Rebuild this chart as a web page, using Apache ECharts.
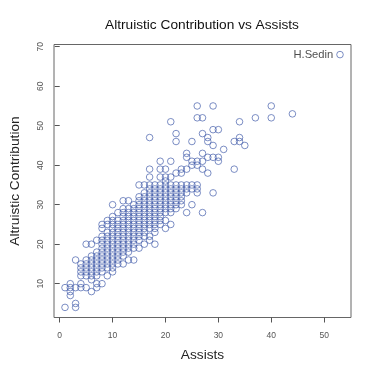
<!DOCTYPE html>
<html>
<head>
<meta charset="utf-8">
<script src="https://cdn.jsdelivr.net/npm/echarts@6/dist/echarts.min.js"></script>
<style>
  html, body { margin: 0; padding: 0; background: #fff; }
  #main { width: 374px; height: 374px; }
</style>
</head>
<body>
<div id="main"></div>
<script>
// assists value -> altruistic contribution values
const columns = [
  [1, [4, 9]],
  [2, [7, 8, 9, 10]],
  [3, [4, 5, 9, 16]],
  [4, [9, 10, 12, 13, 14, 15]],
  [5, [9, 12, 13, 14, 15, 16, 20]],
  [6, [8, 11, 12, 13, 14, 15, 16, 17, 20]],
  [7, [9, 10, 12, 13, 14, 15, 16, 17, 18, 21]],
  [8, [10, 13, 14, 15, 16, 17, 18, 19, 20, 21, 22, 24, 25]],
  [9, [12, 14, 15, 16, 17, 18, 19, 20, 21, 22, 23, 25, 26]],
  [10, [13, 14, 15, 16, 17, 18, 19, 20, 21, 22, 23, 24, 25, 26, 27, 30]],
  [11, [15, 16, 17, 18, 19, 20, 21, 22, 23, 24, 25, 26, 28]],
  [12, [15, 17, 18, 19, 20, 21, 22, 23, 24, 25, 26, 27, 28, 29, 31]],
  [13, [16, 18, 19, 20, 21, 22, 23, 24, 25, 26, 27, 28, 29, 31]],
  [14, [16, 19, 20, 21, 22, 23, 24, 25, 26, 27, 28, 29, 30]],
  [15, [19, 21, 22, 23, 24, 25, 26, 27, 28, 29, 30, 31, 32, 35]],
  [16, [20, 22, 23, 24, 25, 26, 27, 28, 29, 30, 31, 32, 33, 35]],
  [17, [21, 22, 24, 25, 26, 27, 28, 29, 30, 31, 32, 33, 34, 35, 37, 39, 47]],
  [18, [20, 23, 24, 25, 26, 27, 28, 29, 30, 31, 32, 33, 34, 35]],
  [19, [25, 26, 27, 28, 29, 30, 31, 32, 33, 34, 35, 37, 39, 41]],
  [20, [24, 26, 28, 29, 30, 31, 32, 33, 34, 35, 36, 37, 39]],
  [21, [25, 28, 29, 30, 31, 32, 33, 34, 35, 37, 41, 51]],
  [22, [29, 30, 31, 32, 33, 34, 35, 38, 46, 48]],
  [23, [30, 31, 32, 33, 34, 35, 38, 39]],
  [24, [28, 33, 34, 35, 39, 42, 43]],
  [25, [30, 34, 35, 40, 41, 46]],
  [26, [33, 34, 35, 40, 41, 52, 55]],
  [27, [28, 39, 41, 43, 48, 52]],
  [28, [38, 42, 46, 47]],
  [29, [33, 42, 45, 49, 55]],
  [30, [41, 42, 49]],
  [31, [44]],
  [33, [39, 46]],
  [34, [46, 47, 51]],
  [35, [45]],
  [37, [52]],
  [40, [52, 55]],
  [44, [53]],
  [53, [68]]
]
const labelled = { x: 53, y: 68, name: 'H.Sedin' }
const xTicks = [0, 10, 20, 30, 40, 50]
const yTicks = [10, 20, 30, 40, 50, 60, 70]

const font = "'Liberation Sans', Arial, Helvetica, sans-serif"

let points = []
columns.forEach(function (col) {
  col[1].forEach(function (y) {
    if (col[0] === labelled.x && y === labelled.y) {
      points.push({
        value: [col[0], y],
        label: {
          show: true,
          formatter: labelled.name,
          position: 'left',
          distance: 3,
          fontSize: 11.2,
          fontFamily: font,
          color: '#222'
        }
      })
    } else {
      points.push([col[0], y])
    }
  })
})

var myChart = echarts.init(document.getElementById('main'), null, { renderer: 'canvas' })
var option = {
  backgroundColor: '#fff',
  animation: false,
  title: {
    text: 'Altruistic Contribution vs Assists',
    left: 100,
    top: 13,
    textStyle: { fontSize: 13.7, fontWeight: 'normal', color: '#111', fontFamily: font }
  },
  grid: {
    left: 45,
    right: 23,
    top: 44.5,
    bottom: 56.5,
    show: true,
    borderColor: '#666',
    borderWidth: 1
  },
  xAxis: {
    type: 'value',
    min: -1.08,
    max: 55.08,
    name: 'Assists',
    nameLocation: 'middle',
    nameGap: 31,
    nameTextStyle: { fontSize: 13.7, color: '#222', fontFamily: font },
    axisLine: { show: false },
    axisTick: { show: true, length: 5, customValues: xTicks, lineStyle: { color: '#555' } },
    axisLabel: { customValues: xTicks, margin: 14, fontSize: 8.5, color: '#555', fontFamily: font },
    splitLine: { show: false }
  },
  yAxis: {
    type: 'value',
    min: 1.44,
    max: 70.56,
    name: 'Altruistic Contribution',
    nameLocation: 'middle',
    nameGap: 32,
    nameTextStyle: { fontSize: 13.7, color: '#222', fontFamily: font },
    axisLine: { show: false },
    axisTick: { show: true, length: 5, customValues: yTicks, lineStyle: { color: '#555' } },
    axisLabel: { customValues: yTicks, rotate: 90, margin: 9, fontSize: 8.5, color: '#555', fontFamily: font },
    splitLine: { show: false }
  },
  series: [
    {
      type: 'scatter',
      symbol: 'circle',
      symbolSize: 6.6,
      itemStyle: { color: 'rgba(0,0,0,0)', borderColor: '#4862ad', borderWidth: 0.9 },
      data: points
    }
  ]
}
option && myChart.setOption(option)
</script>
</body>
</html>
